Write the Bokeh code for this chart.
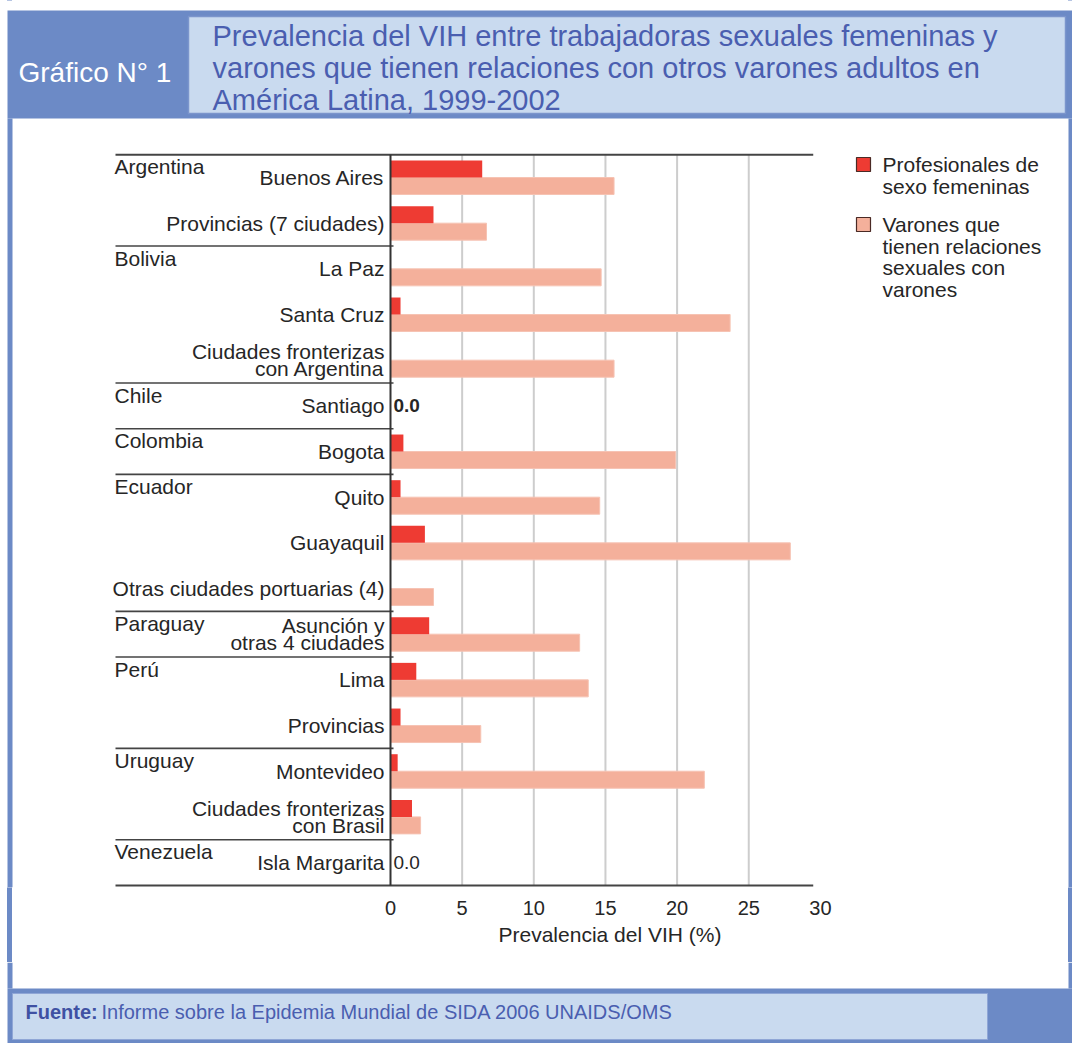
from bokeh.plotting import figure
from bokeh.models import Range1d, LinearAxis, FixedTicker, ColumnDataSource, Title
from bokeh.layouts import column
from bokeh.embed import file_html
from bokeh.resources import INLINE
from bokeh.core.properties import value

nan = float("nan")

# ---------------- data ----------------
countries = ["Argentina", "Bolivia", "Chile", "Colombia", "Ecuador",
             "Paraguay", "Perú", "Uruguay", "Venezuela"]
country_sizes = [2, 3, 1, 1, 3, 1, 2, 2, 1]
cities = ["Buenos Aires", "Provincias (7 ciudades)", "La Paz", "Santa Cruz",
          "Ciudades fronterizas\ncon Argentina", "Santiago", "Bogota", "Quito",
          "Guayaquil", "Otras ciudades portuarias (4)", "Asunción y\notras 4 ciudades",
          "Lima", "Provincias", "Montevideo", "Ciudades fronterizas\ncon Brasil",
          "Isla Margarita"]
fsw = [6.4, 3.0, nan, 0.7, nan, 0.0, 0.9, 0.7, 2.4, nan, 2.7, 1.8, 0.7, 0.5, 1.5, 0.0]
msm = [15.6, 6.7, 14.7, 23.7, 15.6, nan, 19.9, 14.6, 27.9, 3.0, 13.2, 13.8, 6.3, 21.9, 2.1, nan]
x_ticks = [0, 5, 10, 15, 20, 25, 30]
grid_ticks = [5, 10, 15, 20, 25]
series_labels = ["Profesionales de\nsexo femeninas",
                 "Varones que\ntienen relaciones\nsexuales con\nvarones"]
title_lines = ["Prevalencia del VIH entre trabajadoras sexuales femeninas y",
               "varones que tienen relaciones con otros varones  adultos en",
               "América Latina, 1999-2002"]
chart_tag = "Gráfico N° 1"
x_label = "Prevalencia del VIH (%)"
source_bold = "Fuente:"
source_text = "Informe sobre la Epidemia Mundial de SIDA 2006  UNAIDS/OMS"
zero_text = "0.0"

# ---------------- style ----------------
BLUE = "#6C8AC6"
LIGHT = "#C9DAEF"
TITLE_C = "#4A5EB0"
RED = "#EE3B33"
PINK = "#F4B09B"
GRID = "#CDCDCD"
INK = "#262626"
FONT = "Liberation Sans"

W, H_TOP, H_ALL = 1072, 962, 1043
FRAME_BOTTOM = 887

# pixel helpers for decoration layout (canvas pixel -> data units of the chart frame)
PX0, SX = 390.0, 14.33     # pixel x of value 0, pixels per unit
PY0, SY = 177.0, 45.67     # pixel y of first row centre, pixels per row
def X(px):
    return (px - PX0) / SX
def Y(py):
    return (py - PY0) / SY

n = len(cities)
rows = list(range(n))
BAR_H = 17.0 / SY

side_bg = ("linear-gradient(to right, #ffffff 0px, #ffffff 7px, {b} 7px, {b} 12px, "
           "#ffffff 12px, #ffffff {r}px, {b} {r}px, {b} {w}px)").format(b=BLUE, r=W - 4, w=W)

p = figure(width=W, height=H_TOP,
           x_range=Range1d(X(0), X(W)), y_range=Range1d(Y(FRAME_BOTTOM), Y(0)),
           x_axis_type=None, y_axis_type=None, toolbar_location=None,
           output_backend="svg", min_border_left=0, min_border_right=0,
           min_border_top=0, min_border_bottom=H_TOP - FRAME_BOTTOM,
           border_fill_color="white", border_fill_alpha=0,
           background_fill_color="white", outline_line_color=None,
           styles={"background": side_bg})

# ---- header and side borders ----
p.quad(left=[X(7), X(7), X(W - 4)], right=[X(W), X(12), X(W)],
       top=[Y(10), Y(118), Y(118)], bottom=[Y(118), Y(FRAME_BOTTOM), Y(FRAME_BOTTOM)],
       fill_color=BLUE, line_color=None)
p.quad(left=[X(188)], right=[X(W - 7)], top=[Y(16)], bottom=[Y(113)],
       fill_color=LIGHT, line_color="#7B95CC", line_width=1.5)
p.text(x=[X(18)], y=[Y(72)], text=[chart_tag], text_font=value(FONT),
       text_font_size="28px", text_color="white", text_baseline="middle")
p.text(x=[X(212)] * 3, y=[Y(35), Y(67), Y(99)], text=title_lines,
       text_font=value(FONT), text_font_size="29px", text_color=TITLE_C,
       text_baseline="middle")

# ---- grid ----
top_row, bot_row = -0.5, n - 0.5
p.segment(x0=grid_ticks, x1=grid_ticks, y0=[top_row] * len(grid_ticks),
          y1=[bot_row] * len(grid_ticks), line_color=GRID, line_width=2)

# ---- bars ----
src = ColumnDataSource(dict(row=rows, fsw=fsw, msm=msm,
                            yf=[r - BAR_H / 2 for r in rows],
                            ym=[r + BAR_H / 2 for r in rows]))
p.hbar(y="ym", left=0, right="msm", height=BAR_H, source=src,
       fill_color=PINK, line_color="#F6C3B3", line_width=1)
p.hbar(y="yf", left=0, right="fsw", height=BAR_H, source=src,
       fill_color=RED, line_color=None)

# zero-value labels
zr = [i for i in rows if fsw[i] == 0 and (msm[i] != msm[i])]
zstyle = ["bold" if k == 0 else "normal" for k in range(len(zr))]
zsrc = ColumnDataSource(dict(x=[0] * len(zr), y=zr, t=[zero_text] * len(zr), s=zstyle))
p.text(x="x", y="y", text="t", source=zsrc, x_offset=3,
       text_font=value(FONT), text_font_size="19px", text_color=INK,
       text_baseline="middle", text_align="left", text_font_style="s")

# ---- structure lines ----
LEFT_EDGE, LINE_END, SEP_END = X(115), 29.5, X(393)
bounds = []
acc = 0
for s in country_sizes[:-1]:
    acc += s
    bounds.append(acc - 0.5)
p.segment(x0=[LEFT_EDGE] * len(bounds), x1=[SEP_END] * len(bounds),
          y0=bounds, y1=bounds, line_color="#444444", line_width=1.6)
p.segment(x0=[LEFT_EDGE, LEFT_EDGE], x1=[LINE_END, LINE_END],
          y0=[top_row, bot_row], y1=[top_row, bot_row],
          line_color="#444444", line_width=2)
p.segment(x0=[0], x1=[0], y0=[top_row], y1=[bot_row],
          line_color="#333333", line_width=2)

# ---- labels ----
cx, cy, ct = [], [], []
for i, lab in enumerate(cities):
    parts = lab.split("\n")
    m = len(parts)
    for k, t in enumerate(parts):
        cx.append(X(384))
        cy.append(i + (k - (m - 1) / 2) * 17.5 / SY)
        ct.append(t)
p.text(x=cx, y=cy, text=ct, text_font=value(FONT), text_font_size="21px",
       text_color=INK, text_align="right", text_baseline="middle")

kx, ky = [], []
acc = 0
for s in country_sizes:
    kx.append(X(114))
    ky.append(acc - 0.5 + 12 / SY)
    acc += s
p.text(x=kx, y=ky, text=countries, text_font=value(FONT), text_font_size="21px",
       text_color=INK, text_align="left", text_baseline="middle")

# ---- legend ----
sq_centres = [Y(164), Y(224)]
half = 7 / SY
p.quad(left=[X(856)] * 2, right=[X(870)] * 2,
       top=[c - half for c in sq_centres], bottom=[c + half for c in sq_centres],
       fill_color=[RED, PINK], line_color="#4A2A25", line_width=1.2)
lx, ly, lt = [], [], []
for c, lab in zip(sq_centres, series_labels):
    for k, t in enumerate(lab.split("\n")):
        lx.append(X(882))
        ly.append(c + (21.7 * k) / SY)
        lt.append(t)
p.text(x=lx, y=ly, text=lt, text_font=value(FONT), text_font_size="21px",
       text_color=INK, text_align="left", text_baseline="middle")

# ---- x axis ----
ax = LinearAxis(ticker=FixedTicker(ticks=x_ticks),
                bounds=(x_ticks[0], x_ticks[-1]))
ax.axis_line_color = None
ax.major_tick_line_color = None
ax.minor_tick_line_color = None
ax.major_label_standoff = 7
ax.major_label_text_font = FONT
ax.major_label_text_font_size = "20px"
ax.major_label_text_color = INK
p.add_layout(ax, "below")

# axis title placed under the 0-30 scale (left edge offset in pixels)
xt = Title(text=x_label, align="left", offset=498, standoff=7,
           text_font=FONT, text_font_size="21px", text_font_style="normal",
           text_color=INK)
p.add_layout(xt, "below")

# ---------------- footer figure ----------------
H_F = H_ALL - H_TOP
f = figure(width=W, height=H_F, x_range=Range1d(0, W), y_range=Range1d(H_ALL, H_TOP),
           x_axis_type=None, y_axis_type=None, toolbar_location=None,
           output_backend="svg", min_border=0, outline_line_color=None,
           background_fill_color="white", border_fill_color="white")
f.quad(left=[7, W - 4, 7], right=[12, W, W], top=[H_TOP, H_TOP, 988],
       bottom=[988, 988, H_ALL], fill_color=BLUE, line_color=None)
f.quad(left=[12], right=[987], top=[993], bottom=[H_ALL - 4],
       fill_color=LIGHT, line_color="#8FA6D6", line_width=1)
f.text(x=[25], y=[1011], text=[source_bold], text_font=value(FONT),
       text_font_size="20px", text_font_style="bold", text_color="#3F51A3",
       text_baseline="middle")
f.text(x=[101], y=[1011], text=[source_text], text_font=value(FONT),
       text_font_size="20px", text_color="#4A5EB0", text_baseline="middle")

layout = column(p, f, spacing=0)
open("out.html", "w").write(file_html(layout, INLINE, title="Gráfico N° 1"))
